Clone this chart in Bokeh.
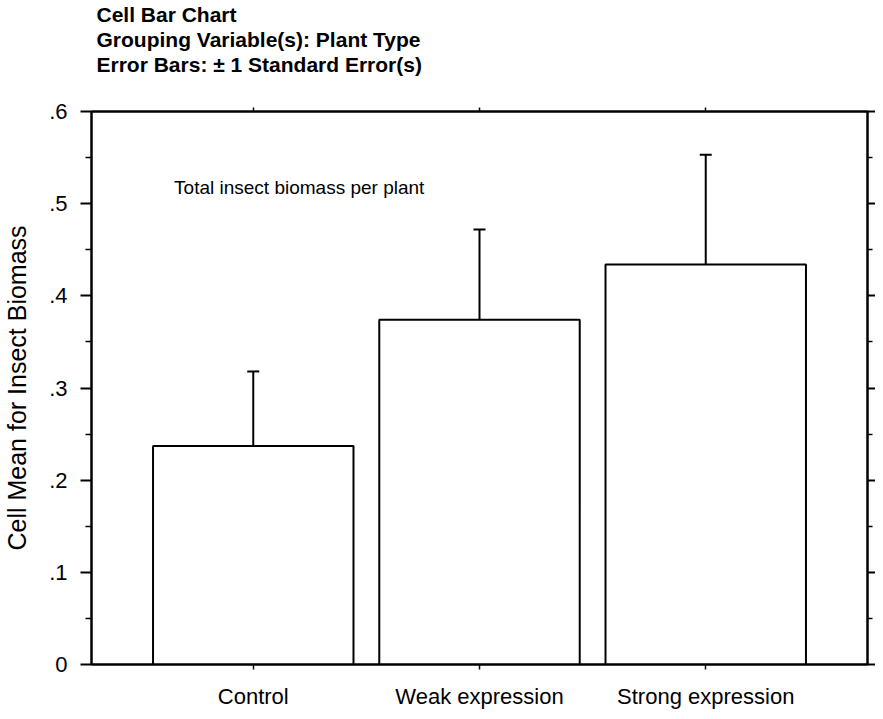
from bokeh.plotting import figure
from bokeh.models import (ColumnDataSource, Range1d, FactorRange, CategoricalAxis, LinearAxis,
                          FixedTicker, CustomJSTickFormatter, Whisker, TeeHead, Title, Label)
from bokeh.embed import file_html
from bokeh.resources import INLINE

# ---- data ----
categories = ["Control", "Weak expression", "Strong expression"]
means = [0.237, 0.374, 0.434]
std_err = [0.081, 0.098, 0.119]
y_ticks = [0.0, 0.1, 0.2, 0.3, 0.4, 0.5, 0.6]
y_tick_labels = ["0", ".1", ".2", ".3", ".4", ".5", ".6"]
y_minor_ticks = [0.05, 0.15, 0.25, 0.35, 0.45, 0.55]
title_lines = ["Cell Bar Chart",
               "Grouping Variable(s): Plant Type",
               "Error Bars: \u00b1 1 Standard Error(s)"]
annotation = "Total insect biomass per plant"
y_label = "Cell Mean for Insect Biomass"

FONT = "Liberation Sans"
INK = "black"

upper = [m + s for m, s in zip(means, std_err)]
src = ColumnDataSource(dict(cat=categories, mean=means, upper=upper))

p = figure(width=875, height=711, output_backend="svg", toolbar_location=None,
           x_range=FactorRange(factors=categories, range_padding=0.215,
                               range_padding_units="absolute"),
           y_range=Range1d(0, 0.6),
           x_axis_location=None, y_axis_location=None,
           min_border_left=0, min_border_right=0, min_border_top=0, min_border_bottom=0)
p.grid.visible = False
p.outline_line_color = INK
p.outline_line_width = 2
p.background_fill_color = "white"
p.border_fill_color = "white"

p.vbar(x="cat", top="mean", bottom=0, width=0.886, source=src,
       fill_color="white", line_color=INK, line_width=2)

p.add_layout(Whisker(source=src, base="cat", upper="upper", lower="mean",
                     dimension="height", line_color=INK, line_width=2,
                     upper_head=TeeHead(size=12, line_color=INK, line_width=2),
                     lower_head=None))

fmt = CustomJSTickFormatter(args=dict(tvals=y_ticks, tlabels=y_tick_labels), code="""
let best = 0;
for (let i = 0; i < tvals.length; i++) {
  if (Math.abs(tvals[i] - tick) < Math.abs(tvals[best] - tick)) best = i;
}
return tlabels[best];
""")
blank = CustomJSTickFormatter(code="return '';")

ticker = FixedTicker(ticks=y_ticks, minor_ticks=y_minor_ticks)

left = LinearAxis(ticker=ticker, formatter=fmt, axis_label=y_label,
                  axis_label_text_font=FONT, axis_label_text_font_size="25px",
                  axis_label_text_font_style="normal", axis_label_text_color=INK,
                  axis_label_standoff=15,
                  major_label_text_font=FONT, major_label_text_font_size="22px",
                  major_label_text_color=INK, major_label_standoff=13,
                  major_tick_in=0, major_tick_out=11, minor_tick_in=0, minor_tick_out=6,
                  axis_line_color=INK, major_tick_line_color=INK, minor_tick_line_color=INK,
                  axis_line_width=2, major_tick_line_width=2, minor_tick_line_width=1.5)
p.add_layout(left, "left")

right = LinearAxis(ticker=ticker, formatter=blank, major_label_text_font_size="1px",
                   major_label_standoff=0, axis_label_standoff=0,
                   major_tick_in=0, major_tick_out=8, minor_tick_in=0, minor_tick_out=5,
                   axis_line_color=INK, major_tick_line_color=INK, minor_tick_line_color=INK,
                   axis_line_width=2, major_tick_line_width=2, minor_tick_line_width=1.5)
p.add_layout(right, "right")

bottom = CategoricalAxis(major_label_text_font=FONT, major_label_text_font_size="22px",
                         major_label_text_color=INK, axis_label_standoff=0,
                         major_label_standoff=14, major_tick_in=0, major_tick_out=5,
                         axis_line_color=INK, major_tick_line_color=INK,
                         axis_line_width=2, major_tick_line_width=1.5)
p.add_layout(bottom, "below")

top = CategoricalAxis(major_label_text_font_size="1px", major_label_text_color="white",
                      major_label_standoff=28, axis_label_standoff=0,
                      major_tick_in=0, major_tick_out=4,
                      axis_line_color=INK, major_tick_line_color=INK,
                      axis_line_width=2, major_tick_line_width=1.5)
p.add_layout(top, "above")

# titles: nearest to the frame first
for line in reversed(title_lines):
    p.add_layout(Title(text=line, align="left", offset=5, text_font=FONT,
                       text_font_size="21px", text_font_style="bold",
                       text_color=INK, standoff=0), "above")

p.add_layout(Label(x=0.15, y=0.517, text=annotation, text_font=FONT, text_color=INK,
                   text_font_size="19px", text_baseline="middle", text_align="left"))

open("out.html", "w").write(file_html(p, INLINE))
